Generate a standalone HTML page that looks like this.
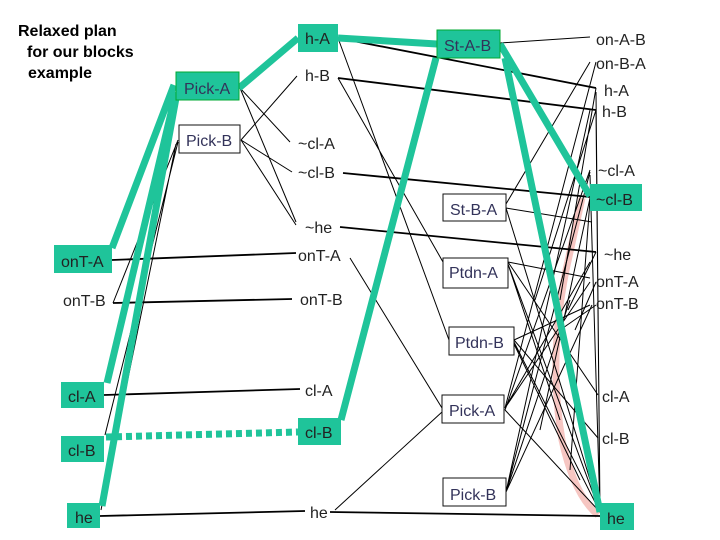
<!DOCTYPE html>
<html><head><meta charset="utf-8"><style>
body{margin:0;width:720px;height:540px;background:#fff;overflow:hidden}
svg{display:block}
text{font-family:"Liberation Sans",sans-serif;font-size:16px;fill:#222}
.b{fill:#1fc49a}
.w{fill:#fff;stroke:#111;stroke-width:1}
.t{stroke:#000;stroke-width:1;fill:none}
.k{stroke:#000;stroke-width:1.8;fill:none}
.g{stroke:#1fc49a;stroke-width:7;fill:none}
.p{fill:#33335a}
</style></head><body>
<svg width="720" height="540" viewBox="0 0 720 540">
<path d="M582,198 L566,270 Q548,360 562,440 Q574,495 598,515" stroke="#f6c6c2" stroke-width="7" fill="none"/>
<g class="t">
<path d="M240,88 L290,142 M240,88 L296,222 M241,140 L297,76 M241,140 L292,172 M241,140 L296,225"/>
<path d="M178,140 L113,303 M178,142 L105,435 M176,144 L101,510"/>
<path d="M338,38 L449,340 M338,78 L443,262 M350,258 L442,408 M335,510 L442,412"/>
<path d="M500,43 L590,37 M506,204 L590,62 M506,208 L592,222 M506,208 L600,512"/>
<path d="M596,88 L560,300 M596,92 L600,512 M596,110 L535,300 M596,112 L600,512 M590,170 L505,410 M590,175 L600,512"/>
<path d="M508,262 L590,278 M508,262 L598,395 M508,264 L600,512 M508,264 L560,420"/>
<path d="M514,340 L590,305 M514,340 L598,438 M514,342 L600,512 M514,344 L580,480"/>
<path d="M505,408 L590,262 M505,408 L590,282 M505,408 L596,62 M505,410 L600,512"/>
<path d="M506,492 L590,110 M506,492 L590,172 M506,492 L592,305 M506,492 L570,300"/>
<path d="M596,252 L568,310 M596,282 L575,330 M596,305 L560,330"/>
<path d="M590,198 L540,430 M590,200 L570,470"/>
</g>
<g class="k">
<path d="M112,260 L296,253 M113,303 L292,299 M104,395 L300,389 M100,516 L305,511"/>
<path d="M338,38 L596,88 M338,78 L596,110 M343,173 L590,197 M340,227 L596,252"/>
<path d="M330,512 L600,516"/>
</g>
<g class="g">
<path d="M174,85 L112,248 M176,92 L107,383 M176,98 L102,506"/>
<path d="M239,88 L298,38 M338,38 L437,44 M500,44 L590,196 M436,58 L341,420 M505,58 L600,512"/>
</g>
<path d="M106,437 L298,432" stroke="#1fc49a" stroke-width="7" stroke-dasharray="6,4"/>
<text x="18" y="36" style="font-weight:bold;fill:#000">Relaxed plan</text>
<text x="27" y="57" style="font-weight:bold;fill:#000">for our blocks</text>
<text x="28" y="78" style="font-weight:bold;fill:#000">example</text>
<rect class="b" x="54" y="245" width="58" height="28"/><text x="61" y="267">onT-A</text>
<text x="63" y="306">onT-B</text>
<rect class="b" x="61" y="382" width="43" height="26"/><text x="68" y="402">cl-A</text>
<rect class="b" x="61" y="436" width="43" height="26"/><text x="68" y="456">cl-B</text>
<rect class="b" x="67" y="503" width="33" height="25"/><text x="75" y="523">he</text>
<rect class="b" x="298" y="24" width="40" height="28"/><text x="305" y="44">h-A</text>
<text x="305" y="81">h-B</text>
<rect class="b" x="176" y="72" width="63" height="28" style="stroke:#0a3;stroke-width:1"/><text class="p" x="184" y="94">Pick-A</text>
<rect class="w" x="179" y="125" width="61" height="28"/><text class="p" x="186" y="146">Pick-B</text>
<text x="298" y="149">~cl-A</text>
<text x="298" y="178">~cl-B</text>
<text x="305" y="233">~he</text>
<text x="298" y="261">onT-A</text>
<text x="300" y="305">onT-B</text>
<text x="305" y="396">cl-A</text>
<rect class="b" x="298" y="418" width="43" height="27"/><text x="305" y="438">cl-B</text>
<text x="310" y="518">he</text>
<rect class="b" x="437" y="30" width="63" height="28" style="stroke:#0a3;stroke-width:1"/><text class="p" x="444" y="51">St-A-B</text>
<rect class="w" x="443" y="194" width="63" height="27"/><text class="p" x="450" y="215">St-B-A</text>
<rect class="w" x="443" y="258" width="65" height="30"/><text class="p" x="449" y="278">Ptdn-A</text>
<rect class="w" x="449" y="327" width="65" height="28"/><text class="p" x="455" y="348">Ptdn-B</text>
<rect class="w" x="442" y="395" width="62" height="28"/><text class="p" x="449" y="416">Pick-A</text>
<rect class="w" x="443" y="478" width="63" height="28"/><text class="p" x="450" y="500">Pick-B</text>
<text x="596" y="45">on-A-B</text>
<text x="596" y="69">on-B-A</text>
<text x="604" y="96">h-A</text>
<text x="602" y="117">h-B</text>
<text x="598" y="176">~cl-A</text>
<rect class="b" x="590" y="184" width="52" height="27"/><text x="596" y="205">~cl-B</text>
<text x="604" y="260">~he</text>
<text x="596" y="287">onT-A</text>
<text x="596" y="309">onT-B</text>
<text x="602" y="402">cl-A</text>
<text x="602" y="444">cl-B</text>
<rect class="b" x="600" y="503" width="34" height="27"/><text x="607" y="524">he</text>
</svg>
</body></html>
